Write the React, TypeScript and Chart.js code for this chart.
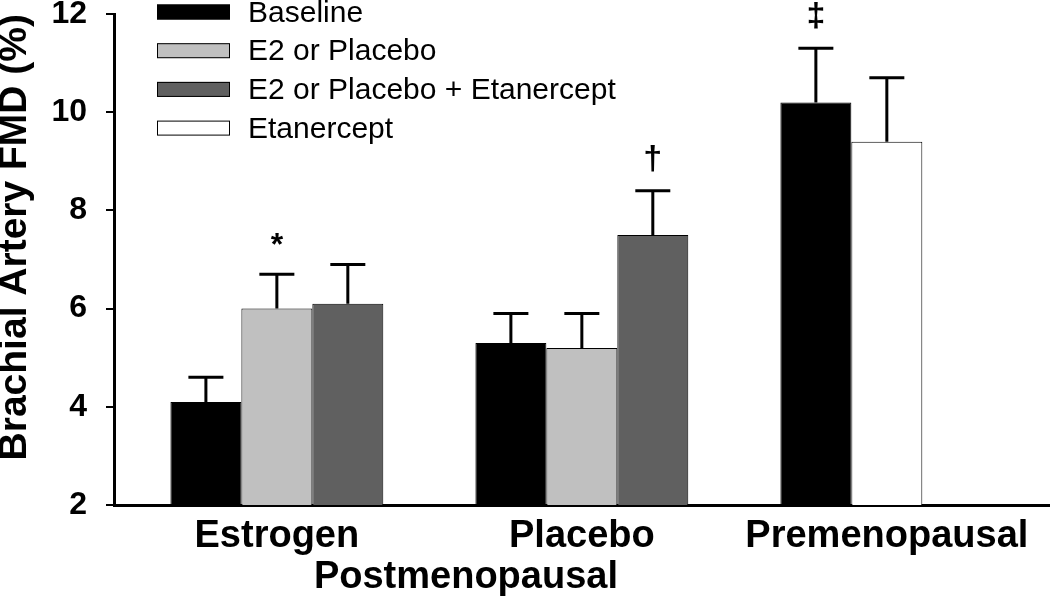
import React, { useEffect, useRef } from 'react';
import { Chart, registerables } from 'chart.js';

Chart.register(...registerables);

// ---- data ----
const categories = ['Estrogen', 'Placebo', 'Premenopausal'];
const groupLabel = 'Postmenopausal';
const seriesNames = ['Baseline', 'E2 or Placebo', 'E2 or Placebo + Etanercept', 'Etanercept'];

const baselineValues = [4.1, 5.3, 10.2];
const treatmentValues = [6.0, 5.2, null];
const treatmentEtanValues = [6.1, 7.5, null];
const etanerceptValues = [null, null, 9.4];

const baselineErrors = [0.5, 0.6, 1.1];
const treatmentErrors = [0.7, 0.7, null];
const treatmentEtanErrors = [0.8, 0.9, null];
const etanerceptErrors = [null, null, 1.3];

const baselineMarks = ['', '', '‡'];
const treatmentMarks = ['*', '', ''];
const treatmentEtanMarks = ['', '†', ''];
const etanerceptMarks = ['', '', ''];

const yTicks = [2, 4, 6, 8, 10, 12];
const yTitle = 'Brachial Artery FMD (%)';

// ---- styles ----
const FONT = '"Liberation Sans", Arial, Helvetica, sans-serif';
const seriesValues = [baselineValues, treatmentValues, treatmentEtanValues, etanerceptValues];
const seriesErrors = [baselineErrors, treatmentErrors, treatmentEtanErrors, etanerceptErrors];
const seriesMarks = [baselineMarks, treatmentMarks, treatmentEtanMarks, etanerceptMarks];
const seriesColors = ['#000000', '#c0c0c0', '#606060', '#ffffff'];
const seriesSlots = ['slot1', 'slot2', 'slot3', 'slot2'];

const X_MIN = -0.534;
const X_MAX = 2.535;
const GROUP_LABEL_POS = 0.62;

const errorBarPlugin = {
  id: 'errorBars',
  afterDatasetsDraw(chart: any) {
    const ctx = chart.ctx;
    const yScale = chart.scales.y;
    chart.data.datasets.forEach((ds: any, di: number) => {
      const meta = chart.getDatasetMeta(di);
      meta.data.forEach((el: any, i: number) => {
        const v = seriesValues[di][i];
        const e = seriesErrors[di][i];
        if (v == null || e == null) return;
        const top = yScale.getPixelForValue(v + e);
        const base = yScale.getPixelForValue(v);
        ctx.save();
        ctx.strokeStyle = '#000';
        ctx.lineWidth = 3;
        ctx.beginPath();
        ctx.moveTo(el.x, base);
        ctx.lineTo(el.x, top);
        ctx.moveTo(el.x - 17.5, top);
        ctx.lineTo(el.x + 17.5, top);
        ctx.stroke();
        const mark = seriesMarks[di][i];
        if (mark) {
          const small = mark === '*';
          ctx.font = `bold ${small ? 32 : 34}px ${FONT}`;
          ctx.fillStyle = '#000';
          ctx.textAlign = 'center';
          ctx.textBaseline = 'alphabetic';
          ctx.fillText(mark, el.x, top - (small ? 19 : 22));
        }
        ctx.restore();
      });
    });
  },
};

const boxLegendPlugin = {
  id: 'boxLegend',
  afterDraw(chart: any) {
    const { ctx, chartArea } = chart;
    const x0 = chartArea.left + 43;
    chart.data.datasets.forEach((ds: any, i: number) => {
      const cy = chartArea.top - 2 + i * 38.7;
      ctx.save();
      ctx.fillStyle = ds.backgroundColor;
      ctx.fillRect(x0, cy - 7.5, 73, 15);
      ctx.strokeStyle = '#000';
      ctx.lineWidth = 1;
      ctx.strokeRect(x0 + 0.5, cy - 7, 72, 14);
      ctx.font = `30px ${FONT}`;
      ctx.fillStyle = '#000';
      ctx.textAlign = 'left';
      ctx.textBaseline = 'middle';
      ctx.fillText(ds.label, x0 + 91, cy + 1.5);
      ctx.restore();
    });
  },
};

export default function App() {
  const canvasRef = useRef<HTMLCanvasElement | null>(null);

  useEffect(() => {
    if (!canvasRef.current) return;
    const datasets = seriesNames.map((name, si) => ({
      label: name,
      data: seriesValues[si].map((y, i) => ({ x: i, y })),
      backgroundColor: seriesColors[si],
      borderColor: '#000',
      borderWidth: 1,
      stack: seriesSlots[si],
    }));

    const chart = new Chart(canvasRef.current, {
      type: 'bar',
      data: { datasets },
      plugins: [errorBarPlugin, boxLegendPlugin],
      options: {
        responsive: false,
        maintainAspectRatio: false,
        animation: false,
        devicePixelRatio: 1,
        layout: { padding: { top: 14, right: 0, left: 0, bottom: 0 }, autoPadding: false },
        plugins: { legend: { display: false }, tooltip: { enabled: false } },
        datasets: { bar: { categoryPercentage: 0.698, barPercentage: 1 } },
        scales: {
          x: {
            type: 'linear',
            position: 'bottom',
            min: X_MIN,
            max: X_MAX,
            offset: false,
            weight: 0,
            afterBuildTicks: (s: any) => {
              s.ticks = categories.map((_, i) => ({ value: i }));
            },
            afterFit: (s: any) => {
              s.height = 55;
              s.paddingLeft = 0;
              s.paddingRight = 0;
            },
            ticks: {
              callback: (_v: any, i: number) => categories[i] ?? '',
              font: { size: 38, weight: 'bold', family: FONT },
              color: '#000',
              padding: 9,
              maxRotation: 0,
              minRotation: 0,
              autoSkip: false,
            },
            grid: { display: false, drawTicks: false },
            border: { display: true, color: '#000', width: 3 },
          },
          x2: {
            type: 'linear',
            position: 'bottom',
            min: X_MIN,
            max: X_MAX,
            offset: false,
            weight: 1,
            afterBuildTicks: (s: any) => {
              s.ticks = [{ value: GROUP_LABEL_POS }];
            },
            afterFit: (s: any) => {
              s.height = 43;
              s.paddingLeft = 0;
              s.paddingRight = 0;
            },
            ticks: {
              callback: () => groupLabel,
              font: { size: 38, weight: 'bold', family: FONT, lineHeight: 1 },
              color: '#000',
              padding: -1.5,
              maxRotation: 0,
              minRotation: 0,
              autoSkip: false,
            },
            grid: { display: false, drawTicks: false },
            border: { display: false },
          },
          y: {
            type: 'linear',
            min: yTicks[0],
            max: yTicks[yTicks.length - 1],
            stacked: false,
            beginAtZero: false,
            afterBuildTicks: (s: any) => {
              s.ticks = yTicks.map((value) => ({ value }));
            },
            afterFit: (s: any) => {
              s.width = 114;
              s.paddingTop = 0;
              s.paddingBottom = 0;
            },
            ticks: {
              font: { size: 32, weight: 'bold', family: FONT },
              color: '#000',
              padding: 19,
            },
            grid: { drawOnChartArea: false, drawTicks: true, tickLength: 8, color: '#000', lineWidth: 2 },
            border: { display: true, color: '#000', width: 3 },
            title: {
              display: true,
              text: yTitle,
              align: 'end',
              color: '#000',
              padding: 0,
              font: { size: 39, weight: 'bold', family: FONT, lineHeight: 0.8 },
            },
          },
        },
      } as any,
    });
    return () => chart.destroy();
  }, []);

  return (
    <div style={{ position: 'absolute', left: 0, top: 0, width: 1050, height: 603, background: '#fff' }}>
      <canvas ref={canvasRef} width={1050} height={603} />
    </div>
  );
}
